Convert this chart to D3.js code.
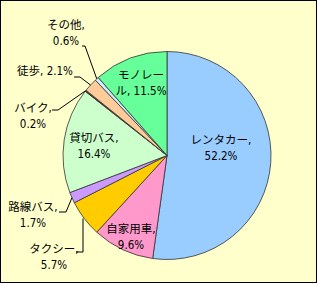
<!DOCTYPE html>
<html>
<head>
<meta charset="utf-8">
<script src="https://cdn.jsdelivr.net/npm/d3@7"></script>
<style>
    html, body { margin: 0; padding: 0; background: #fff; }
    svg { display: block; }
    .lbl { font-family: "Liberation Sans Narrow", "DejaVu Sans Condensed", "Noto Sans CJK JP", sans-serif; font-size: 11.5px; fill: #000; }
</style>
</head>
<body>
<svg id="chart" width="318" height="284"></svg>
<script>
// data (share of transport means, %), clockwise from 12 o'clock
const names = ['レンタカー', '自家用車', 'タクシー', '路線バス', '貸切バス', 'バイク', '徒歩', 'その他', 'モノレール']
const values = [52.2, 9.6, 5.7, 1.7, 16.4, 0.2, 2.1, 0.6, 11.5]
const colors = ['#99CCFF', '#FF99CC', '#FFCC00', '#CC99FF', '#CCFFCC', '#663333', '#FFCC99', '#CCECFF', '#66FF99']

// label layout: text lines + where they sit, and optional leader stub
const labelLayout = {
    'レンタカー': { lines: ['レンタカー,', '52.2%'], x: 221, y: 140 },
    '自家用車': { lines: ['自家用車,', '9.6%'], x: 131, y: 229 },
    'タクシー': { lines: ['タクシー,', '5.7%'], x: 54, y: 249, stub: [76, 83, 252], vertical: true },
    '路線バス': { lines: ['路線バス,', '1.7%'], x: 33, y: 207, stub: [59, 66, 212] },
    '貸切バス': { lines: ['貸切バス,', '16.4%'], x: 94, y: 138 },
    'バイク': { lines: ['バイク,', '0.2%'], x: 33, y: 108, stub: [52, 58, 110] },
    '徒歩': { lines: ['徒歩, 2.1%'], x: 45, y: 71, stub: [74, 80, 77] },
    'その他': { lines: ['その他,', '0.6%'], x: 66, y: 25, stub: [82, 85, 46] },
    'モノレール': { lines: ['モノレー', 'ル, 11.5%'], x: 141, y: 75 }
}

const width = 318, height = 284
const cx = 167, cy = 155.5, radius = 104
const lineGap = 16

const svg = d3.select('#chart')

// frame (1px top/left, 2px right/bottom)
svg.append('rect')
    .attr('x', 0).attr('y', 0)
    .attr('width', width - 1).attr('height', height - 1)
    .attr('fill', '#000')
svg.append('rect')
    .attr('x', 1).attr('y', 1)
    .attr('width', width - 3).attr('height', height - 3)
    .attr('fill', '#FFFFCC')

const data = names.map((n, i) => ({ name: n, value: values[i], color: colors[i] }))

const pie = d3.pie()
    .value(d => d.value)
    .sort(null)

const arc = d3.arc()
    .innerRadius(0)
    .outerRadius(radius)

const arcs = pie(data)

const g = svg.append('g')
    .attr('transform', `translate(${cx},${cy})`)

g.selectAll('path')
    .data(arcs)
    .enter()
    .append('path')
    .attr('d', arc)
    .attr('fill', d => d.data.color)
    .attr('stroke', '#333')
    .attr('stroke-width', 0.8)
    .attr('stroke-linejoin', 'round')

// leader lines for the small slices
arcs.forEach(a => {
    let lay = labelLayout[a.data.name]
    if (!lay.stub) return
    let mid = (a.startAngle + a.endAngle) / 2
    let ex = cx + radius * Math.sin(mid)
    let ey = cy - radius * Math.cos(mid)
    let [x1, x2, sy] = lay.stub
    let pts = [[x1, sy], [x2, sy], [lay.vertical ? x2 : ex, ey]]
    svg.append('path')
        .attr('d', d3.line()(pts))
        .attr('fill', 'none')
        .attr('stroke', '#000')
        .attr('stroke-width', 1)
})

// labels
arcs.forEach(a => {
    let lay = labelLayout[a.data.name]
    lay.lines.forEach((t, i) => {
        svg.append('text')
            .attr('class', 'lbl')
            .attr('x', lay.x)
            .attr('y', lay.y + i * lineGap)
            .attr('text-anchor', 'middle')
            .attr('dominant-baseline', 'central')
            .text(t)
    })
})
</script>
</body>
</html>
